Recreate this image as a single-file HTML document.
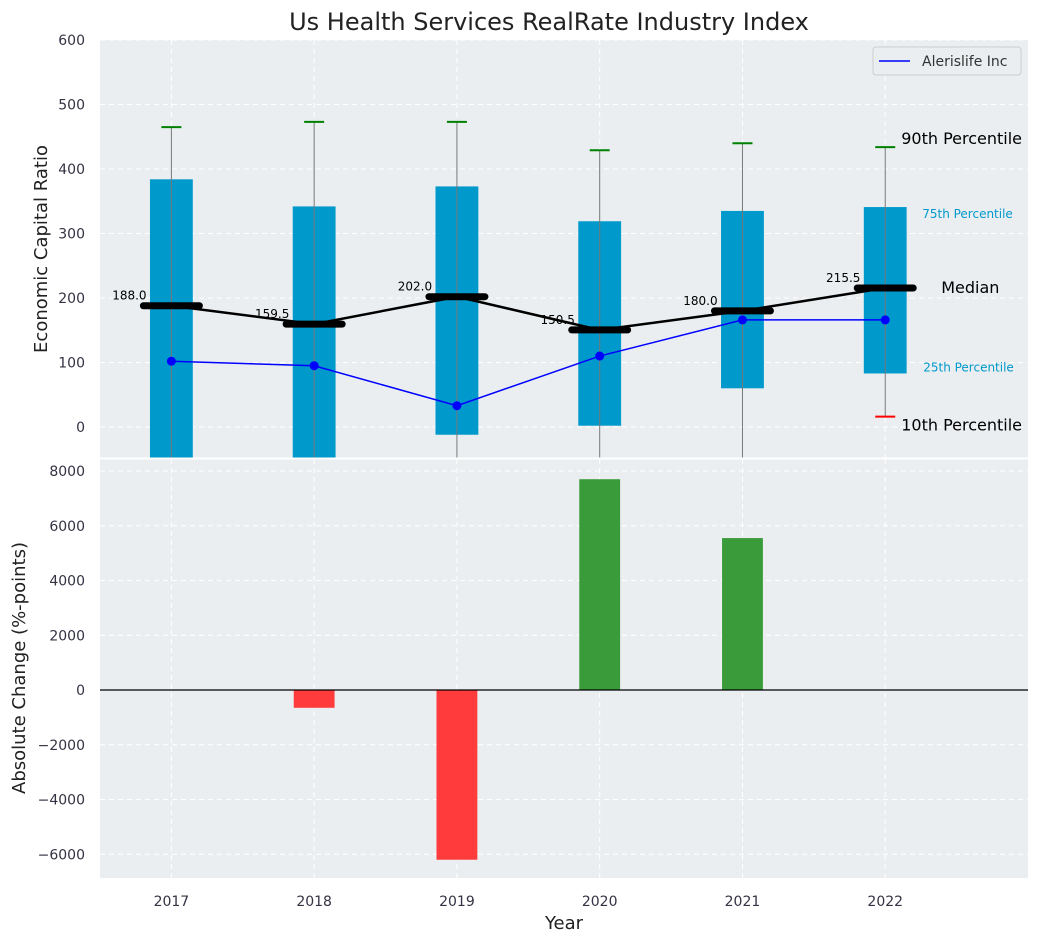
<!DOCTYPE html>
<html><head><meta charset="utf-8"><style>
body{margin:0;background:#fff;font-family:"Liberation Sans","DejaVu Sans",sans-serif}
svg text{font-family:"DejaVu Sans","Liberation Sans",sans-serif}
</style></head><body>
<svg id="c" width="1039" height="942" xmlns="http://www.w3.org/2000/svg"></svg>
<script>
const years=[2017,2018,2019,2020,2021,2022];
const p10=[-80,-80,-80,-80,-80,16];
const q1=[-80,-80,-12,2,60,83];
const medians=[188,159.5,202,150.5,180,215.5];
const q3=[384,342,373,319,335,341];
const p90=[465,473,473,429,440,434];
const company=[102,95,33,110,166,166];
const changes=[0,-650,-6200,7700,5550,0];
const topTicks=[0,100,200,300,400,500,600];
const botTicks=[-6000,-4000,-2000,0,2000,4000,6000,8000];

const S=document.getElementById('c');const NS='http://www.w3.org/2000/svg';
function el(t,a,p,txt){const e=document.createElementNS(NS,t);for(const k in a)e.setAttribute(k,a[k]);if(txt!==undefined)e.textContent=txt;(p||S).appendChild(e);return e;}
const X0=100,X1=1028;
const x=v=>X0+(v-2016.5)/(2023-2016.5)*(X1-X0);
const yT=v=>427-v*0.645;
const yB=v=>690-v*(54.75/2000);
const T0=40,T1=458,B0=459,B1=878;

el('text',{x:549,y:30,'font-size':24,'text-anchor':'middle',fill:'#222',},S,'Us Health Services RealRate Industry Index');
let r=el('rect',{x:X0,y:T0,width:X1-X0,height:T1-T0,fill:'#eaeef0'});
r=el('rect',{x:X0,y:B0,width:X1-X0,height:B1-B0,fill:'#eaeef0'});
const clipD=el('defs',{});const cp=el('clipPath',{id:'ct'},clipD);el('rect',{x:X0,y:T0,width:X1-X0,height:T1-T0},cp);
const cb=el('clipPath',{id:'cb'},clipD);el('rect',{x:X0,y:B0,width:X1-X0,height:B1-B0},cb);
const gT=el('g',{'clip-path':'url(#ct)'});const gB=el('g',{'clip-path':'url(#cb)'});
topTicks.forEach(t=>{el('line',{x1:X0,x2:X1,y1:yT(t),y2:yT(t),stroke:'#fff','stroke-dasharray':'5,4'},gT);
 const tx=el('text',{x:85,y:yT(t)+5,'font-size':14,'text-anchor':'end',fill:'#334'},S,t);});
botTicks.forEach(t=>{el('line',{x1:X0,x2:X1,y1:yB(t),y2:yB(t),stroke:'#fff','stroke-dasharray':'5,4'},gB);
 const tx=el('text',{x:85,y:yB(t)+5,'font-size':14,'text-anchor':'end',fill:'#334'},S,(t<0?'\u2212'+(-t):t));});
years.forEach(y=>{el('line',{x1:x(y),x2:x(y),y1:T0,y2:T1,stroke:'#fff','stroke-dasharray':'5,4'},gT);el('line',{x1:x(y),x2:x(y),y1:B0,y2:B1,stroke:'#fff','stroke-dasharray':'5,4'},gB);
 const tx=el('text',{x:x(y),y:906,'font-size':14,'text-anchor':'middle',fill:'#334'},S,y);});
const hw=0.15*(X1-X0)/6.5;
years.forEach((y,i)=>{
 const b=el('rect',{x:x(y)-hw,y:yT(q3[i]),width:2*hw,height:yT(q1[i])-yT(q3[i]),fill:'#0099cc'},gT);
 el('line',{x1:x(y),x2:x(y),y1:yT(p90[i]),y2:yT(p10[i]),stroke:'#777','stroke-width':1},gT);
 el('line',{x1:x(y)-10,x2:x(y)+10,y1:yT(p90[i]),y2:yT(p90[i]),stroke:'green','stroke-width':2},gT);
 el('line',{x1:x(y)-10,x2:x(y)+10,y1:yT(p10[i]),y2:yT(p10[i]),stroke:'red','stroke-width':2},gT);
});
el('polyline',{points:years.map((y,i)=>x(y)+','+yT(medians[i])).join(' '),fill:'none',stroke:'#000','stroke-width':2.5},gT);
years.forEach((y,i)=>{const m=el('line',{x1:x(y)-28,x2:x(y)+28,y1:yT(medians[i]),y2:yT(medians[i]),stroke:'#000','stroke-width':7,'stroke-linecap':'round'},gT);
 el('text',{x:x(y)-42,y:yT(medians[i])-6,'font-size':12,'text-anchor':'middle',fill:'#000'},gT,medians[i].toFixed(1));});
el('polyline',{points:years.map((y,i)=>x(y)+','+yT(company[i])).join(' '),fill:'none',stroke:'blue','stroke-width':1.5},gT);
years.forEach((y,i)=>{const c=el('circle',{cx:x(y),cy:yT(company[i]),r:4.5,fill:'blue'},gT);});
const lx=x(2022)+1;
el('text',{x:lx+15,y:yT(p90[5])-3,'font-size':16,fill:'#000',},S,'90th Percentile');
el('text',{x:lx+36,y:yT(q3[5])+11,'font-size':12,fill:'#0099cc',},S,'75th Percentile');
el('text',{x:lx+55,y:yT(medians[5])+5,'font-size':16,fill:'#000',},S,'Median');
el('text',{x:lx+37,y:yT(q1[5])-2,'font-size':12,fill:'#0099cc',},S,'25th Percentile');
el('text',{x:lx+15,y:yT(p10[5])+14,'font-size':16,fill:'#000',},S,'10th Percentile');
const lg=el('g',{});
el('rect',{x:873,y:47,width:148,height:28,rx:3,fill:'#eaeef0',stroke:'#ccc'},lg);
el('line',{x1:879,x2:910,y1:61,y2:61,stroke:'blue','stroke-width':1.5},lg);
el('text',{x:922,y:66,'font-size':14,fill:'#333'},lg,'Alerislife Inc');
years.forEach((y,i)=>{if(!changes[i])return;const v=changes[i];const b=el('rect',{x:x(y)-hw+1,y:Math.min(yB(v),yB(0)),width:2*hw-2,height:Math.abs(yB(v)-yB(0)),fill:v>0?'#3a9b3a':'#ff3b3b'},gB);});
el('line',{x1:X0,x2:X1,y1:yB(0),y2:yB(0),stroke:'#000','stroke-width':1.2},gB);
el('line',{x1:X0,x2:X1,y1:458.5,y2:458.5,stroke:'#fff','stroke-width':2});
el('text',{x:0,y:0,'font-size':18,'text-anchor':'middle',fill:'#222',transform:'translate(47,249) rotate(-90)',},S,'Economic Capital Ratio');
el('text',{x:0,y:0,'font-size':18,'text-anchor':'middle',fill:'#222',transform:'translate(25,668) rotate(-90)',},S,'Absolute Change (%-points)');
el('text',{x:564,y:929,'font-size':18,'text-anchor':'middle',fill:'#222',},S,'Year');
</script>
</body></html>
